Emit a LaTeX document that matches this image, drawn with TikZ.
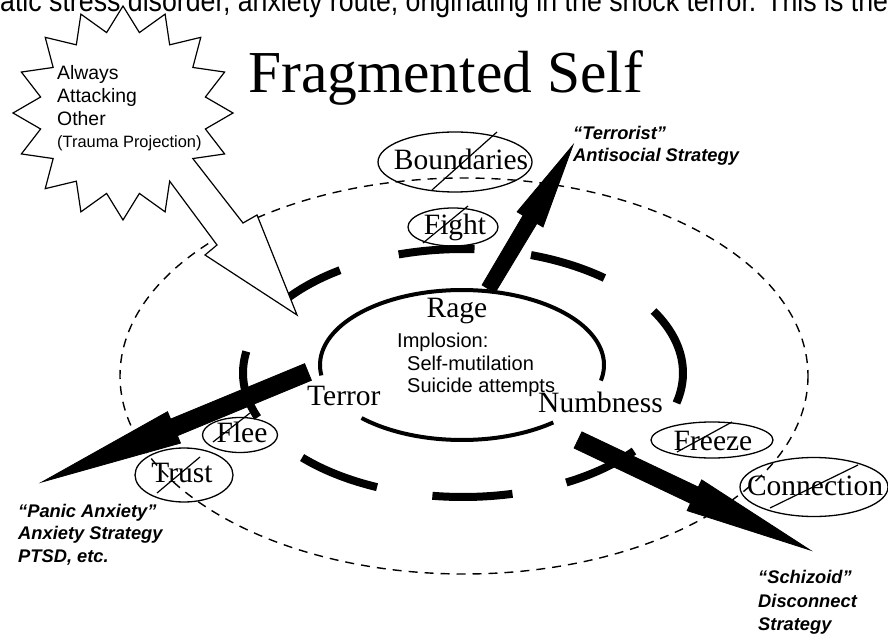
\documentclass[tikz,border=0pt]{standalone}
\usepackage{graphicx}
\usepackage{fontspec}
\setmainfont{Liberation Serif}
\newfontfamily\arialf{Liberation Sans}
\usetikzlibrary{shapes.geometric}
\begin{document}
\begin{tikzpicture}[x=1pt,y=-1pt,
  lbl/.style={font=\fontsize{29.5}{30}\selectfont, inner sep=0, anchor=base},
  sans/.style={font=\arialf\fontsize{20}{22}\selectfont, inner sep=0, anchor=base west},
  strat/.style={font=\arialf\bfseries\itshape\fontsize{18.3}{20}\selectfont, inner sep=0, anchor=base west},
  burst/.style={font=\arialf\fontsize{19.4}{22}\selectfont, inner sep=0, anchor=base west},
  crossed/.style={draw, ellipse, inner sep=0, line width=1.3pt},
  slash/.style={line width=1.2pt},
  ring/.style={line width=8pt},
  core/.style={line width=4pt},
  outer/.style={line width=1.4pt, dash pattern=on 9pt off 7pt},
  blackarrow/.style={fill=black, draw=black, line width=0.8pt, line join=miter},
  starline/.style={fill=white, draw=black, line width=1.2pt, line join=miter},
]
\useasboundingbox (0,0) rectangle (888,636);

% cut-off text line at the top
\node[anchor=base west, inner sep=0] (topline) at (0,12)
  {\resizebox{888pt}{22pt}{\arialf\fontsize{26.7}{30}\selectfont atic stress disorder, anxiety route, originating in the shock terror. This is the}};

% title
\node[anchor=base west, inner sep=0] (title) at (248,93) {\fontsize{59.5}{60}\selectfont Fragmented Self};

% outer dashed ellipse
\draw[outer] (464,376) ellipse [x radius=344, y radius=198];

% thick broken ring
\foreach \a/\b in {-107/-87, -143/-124, -72/-50, -30/14, 39/62, 77/98, 113/137, 159/190}{
  \draw[ring] plot[domain=\a:\b, samples=24] ({463+220*cos(\x)},{373+124*sin(\x)});
}

% inner core ellipse (two arcs)
\draw[core] plot[domain=172:372, samples=80] ({462+142*cos(\x)},{365+75*sin(\x)});
\draw[core] plot[domain=50:135, samples=40] ({462+142*cos(\x)},{365+75*sin(\x)});

% big black arrows
\draw[blackarrow] (482.1,285) -- (523.1,215.4) -- (517.1,211.8) -- (573,145) -- (543,227) -- (536.9,223.4) -- (494.9,293) -- cycle;
\draw[blackarrow] (304.6,363.7) -- (170.6,419.1) -- (167.5,411.7) -- (42,482) -- (180.5,443.1) -- (177.4,435.7) -- (311.4,380.3) -- cycle;
\draw[blackarrow] (581.9,431.9) -- (698.3,487.1) -- (701.7,479.9) -- (810,550) -- (687.1,510.6) -- (690.5,503.3) -- (574.1,448.1) -- cycle;

% starburst with its hollow arrow
\draw[starline] ({123+84*cos(56.25)},{113+82*sin(56.25)})
  \foreach \k in {3,...,17}{
    -- ({123+110*cos(22.5*\k)},{113+107*sin(22.5*\k)})
    -- ({123+84*cos(22.5*\k+11.25)},{113+82*sin(22.5*\k+11.25)})
  }
  -- (243,223) -- (257,215) -- (297,315) -- (205,255) -- (217,245) -- cycle;

\node[burst] (al) at (57,80) {Always};
\node[burst] (at) at (57,103) {Attacking};
\node[burst] (ot) at (57,126) {Other};
\node[burst, font=\arialf\fontsize{16.4}{18}\selectfont] (tp) at (57,148) {(Trauma Projection)};

% crossed-out ellipses
\node[crossed, minimum width=154pt, minimum height=60pt] (bnd) at (455,162) {};
\node[lbl] (bndt) at (461,170) {Boundaries};
\draw[slash] ([shift={(-23,28)}]bnd.center) -- ([shift={(42,-30)}]bnd.center);

\node[crossed, minimum width=90pt, minimum height=38pt] (fig) at (453,227) {};
\node[lbl] (figt) at (455,235) {Fight};
\draw[slash] ([shift={(-30,16)}]fig.center) -- ([shift={(15,-21)}]fig.center);

\node[crossed, minimum width=75pt, minimum height=35pt] (fle) at (240,435) {};
\node[lbl] (flet) at (242,442) {Flee};
\draw[slash] ([shift={(-27,7)}]fle.center) -- ([shift={(10,-22)}]fle.center);

\node[crossed, minimum width=98pt, minimum height=54pt] (tru) at (184,475) {};
\node[lbl] (trut) at (182,482) {Trust};
\draw[slash] ([shift={(-27,18)}]tru.center) -- ([shift={(16,-18)}]tru.center);

\node[crossed, minimum width=122pt, minimum height=36pt] (fre) at (712,440) {};
\node[lbl] (fret) at (713,450) {Freeze};
\draw[slash] ([shift={(-35,12)}]fre.center) -- ([shift={(20,-18)}]fre.center);

\node[crossed, minimum width=148pt, minimum height=59pt] (con) at (814,487) {};
\node[lbl] (cont) at (815,495) {Connection};
\draw[slash] ([shift={(-44,21)}]con.center) -- ([shift={(44,-22)}]con.center);

% core labels
\node[lbl] (rage) at (457,317) {Rage};
\node[sans] (imp) at (397,347) {Implosion:};
\node[sans] (selfm) at (407,370) {Self-mutilation};
\node[sans] (suic) at (407,392) {Suicide attempts};
\node[lbl, anchor=base west] (terror) at (307,405) {Terror};
\node[lbl, anchor=base west] (numb) at (538,412) {Numbness};

% strategy labels
\node[strat] (ter1) at (573,140) {“Terrorist”};
\node[strat] (ter2) at (573,162) {Antisocial Strategy};
\node[strat] (pan1) at (18,517) {“Panic Anxiety”};
\node[strat] (pan2) at (18,539) {Anxiety Strategy};
\node[strat] (pan3) at (18,562) {PTSD, etc.};
\node[strat] (sch1) at (758,583) {“Schizoid”};
\node[strat] (sch2) at (758,607) {Disconnect};
\node[strat] (sch3) at (758,630) {Strategy};
\end{tikzpicture}
\end{document}
